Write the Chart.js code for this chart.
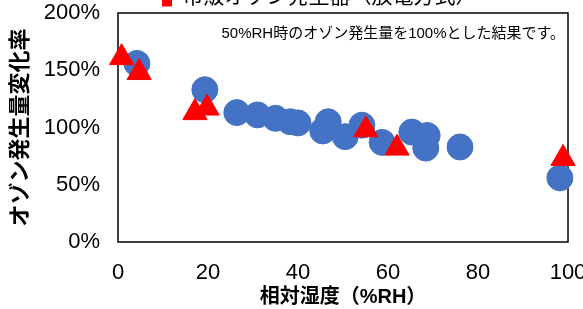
<!DOCTYPE html>
<html>
<head>
<meta charset="utf-8">
<script src="https://cdn.jsdelivr.net/npm/chart.js@4/dist/chart.umd.min.js"></script>
<style>
  html, body { margin: 0; padding: 0; background: #fff; }
  #wrap { width: 583px; height: 309px; overflow: hidden; position: relative; }
  #c { display: block; margin-top: -57px; }
</style>
</head>
<body>
<div id="wrap"><canvas id="c" width="583" height="366"></canvas></div>
<script>
// ---- data ----
const humidityBlue = [4.2, 19.3, 26.4, 31, 35, 38.3, 40, 45.5, 46.7, 50.5, 54.2, 58.7, 65.3, 68.7, 68.4, 76, 98.2];
const changeBlue   = [156, 133, 113, 111, 108, 105, 104, 97, 105, 92, 102, 87, 96, 93, 82, 83, 56];
const humidityRed  = [0.8, 4.7, 17.1, 19.8, 55.1, 62, 98.9];
const changeRed    = [161, 148, 113, 117, 98, 82, 73];
const xTicks = [0, 20, 40, 60, 80, 100];
const yTicks = [0, 50, 100, 150, 200];
const labelBlue = '本製品';
const labelRed = '市販オゾン発生器（放電方式）';
const xTitle = '相対湿度（%RH）';
const yTitle = 'オゾン発生量変化率';
const note = '50%RH時のオゾン発生量を100%とした結果です。';

const FONT = "'Liberation Sans', Arial, 'Noto Sans CJK JP', sans-serif";

const toPts = (xs, ys) => xs.map((x, i) => ({ x: x, y: ys[i] }));

const framePlugin = {
  id: 'frame',
  beforeDatasetsDraw(chart) {
    const a = chart.chartArea, ctx = chart.ctx;
    ctx.save();
    ctx.strokeStyle = '#000';
    ctx.lineWidth = 1.5;
    ctx.strokeRect(a.left, a.top, a.right - a.left, a.bottom - a.top);
    ctx.restore();
  }
};
const notePlugin = {
  id: 'note',
  afterDatasetsDraw(chart) {
    const a = chart.chartArea, ctx = chart.ctx;
    ctx.save();
    ctx.font = "15px 'Liberation Sans', 'Noto Sans CJK JP', sans-serif";
    ctx.fillStyle = '#000';
    ctx.textAlign = 'right';
    ctx.textBaseline = 'middle';
    ctx.fillText(note, a.right - 3, a.top + 21);
    ctx.restore();
  }
};

new Chart(document.getElementById('c'), {
  type: 'scatter',
  data: {
    datasets: [
      {
        label: labelBlue,
        data: toPts(humidityBlue, changeBlue),
        pointStyle: 'circle',
        pointRadius: 13,
        pointHoverRadius: 13,
        backgroundColor: '#4472C4',
        borderColor: '#4472C4',
        borderWidth: 1,
        order: 1,
        clip: false
      },
      {
        label: labelRed,
        data: toPts(humidityRed, changeRed),
        pointStyle: 'triangle',
        pointRadius: 14,
        pointHoverRadius: 14,
        backgroundColor: '#FF0000',
        borderColor: '#FF0000',
        borderWidth: 1,
        order: 0,
        clip: false
      }
    ]
  },
  options: {
    responsive: false,
    animation: false,
    devicePixelRatio: 1,
    layout: { padding: { left: 0, right: 14, top: 0, bottom: 0 } },
    plugins: {
      tooltip: { enabled: false },
      legend: {
        display: true,
        position: 'top',
        align: 'start',
        fullSize: false,
        maxHeight: 70,
        labels: {
          boxWidth: 10,
          boxHeight: 18,
          padding: 44,
          color: '#000',
          font: { family: FONT, size: 21 },
          generateLabels: (chart) => [{
            text: labelRed, fillStyle: '#FF0000', strokeStyle: '#FF0000',
            lineWidth: 0, datasetIndex: 1, hidden: false
          }]
        }
      }
    },
    scales: {
      x: {
        type: 'linear',
        min: 0, max: 100,
        afterBuildTicks: (s) => { s.ticks = xTicks.map(v => ({ value: v })); },
        afterFit: (s) => { s.height = 67; s.paddingLeft = 0; s.paddingRight = 0; },
        grid: { display: false },
        border: { display: false },
        ticks: { color: '#000', padding: 10, maxRotation: 0, autoSkip: false, font: { family: FONT, size: 22 } },
        title: {
          display: true, text: xTitle, color: '#000',
          font: { family: FONT, size: 20, weight: 'bold' },
          padding: { top: 0, bottom: 0 }
        }
      },
      y: {
        type: 'linear',
        min: 0, max: 200,
        afterBuildTicks: (s) => { s.ticks = yTicks.map(v => ({ value: v })); },
        afterFit: (s) => { s.width = 118; s.paddingTop = 0; s.paddingBottom = 0; },
        grid: { display: false },
        border: { display: false },
        ticks: { color: '#000', padding: 10, callback: (v) => v + '%', font: { family: FONT, size: 22 } },
        title: {
          display: true, text: yTitle, color: '#000',
          font: { family: FONT, size: 22, weight: 'bold' },
          padding: { top: 8, bottom: 0 }
        }
      }
    }
  },
  plugins: [framePlugin, notePlugin]
});
</script>
</body>
</html>
